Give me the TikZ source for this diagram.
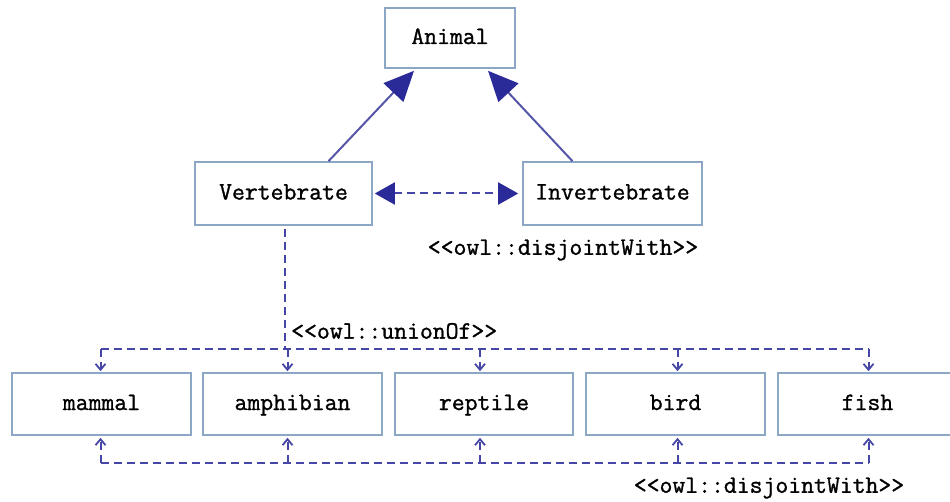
\documentclass[tikz,border=0pt]{standalone}
\usepackage{fontspec}
\newfontfamily\boxfont[FakeBold=1.2]{Latin Modern Mono}
\usetikzlibrary{arrows.meta,calc}
\definecolor{boxline}{HTML}{8CA6C6}
\definecolor{linkline}{HTML}{5656A8}
\definecolor{headfill}{HTML}{2A2A98}
\definecolor{dashline}{HTML}{4646A6}
\tikzset{
  classbox/.style={draw=boxline, line width=1.6pt, fill=white, inner sep=0pt,
    minimum height=62pt, text height=17pt, text depth=5pt,
    font=\boxfont\fontsize{25}{28}\selectfont},
  isa/.style={draw=linkline, line width=2pt,
    -{Triangle[length=30pt,width=27pt,fill=headfill,color=headfill]}},
  disj/.style={draw=dashline, line width=2pt, dash pattern=on 8pt off 5pt,
    {Triangle[length=20pt,width=22pt,fill=headfill,color=headfill]}-{Triangle[length=20pt,width=22pt,fill=headfill,color=headfill]}},
  bus/.style={draw=dashline, line width=2pt, dash pattern=on 8pt off 5pt},
  tick/.style={bus, -{Straight Barb[length=6pt,width=10pt,line width=1.8pt]}},
  stereo/.style={font=\boxfont\fontsize{25}{28}\selectfont, inner sep=0pt}
}
\begin{document}
\begin{tikzpicture}[x=1pt,y=-1pt]
\useasboundingbox (0,0) rectangle (950,502);

% class boxes
\node[classbox, minimum width=130pt, minimum height=60pt] (animal) at (450,38) {Animal};
\node[classbox, minimum width=177pt, minimum height=63pt] (vert) at (283.5,193.5) {Vertebrate};
\node[classbox, minimum width=179pt, minimum height=63pt] (invert) at (612.5,193.5) {Invertebrate};

\node[classbox, minimum width=179pt] (mammal) at (101.5,404) {mammal};
\node[classbox, minimum width=179pt] (amph)   at (292.5,404) {amphibian};
\node[classbox, minimum width=178pt] (rept)   at (484,404)   {reptile};
\node[classbox, minimum width=179pt] (bird)   at (675.5,404) {bird};
\node[classbox, minimum width=179pt] (fish)   at (867.5,404) {fish};

% subclass links
\draw[isa] ($(vert.north)+(45,0)$) -- ($(animal.south)+(-36,2)$);
\draw[isa] ($(invert.north)+(-40,0)$) -- ($(animal.south)+(38,2)$);

% disjointness of Vertebrate and Invertebrate
\draw[disj] ($(vert.east)+(2,0)$) -- ($(invert.west)+(-4,0)$);
\node[stereo] (dj1) at (563,250) {<<owl::disjointWith>>};

% union of the five subclasses
\coordinate (u1) at ($(mammal.north)+(-1,-23)$);
\coordinate (u2) at ($(amph.north)+(-5,-23)$);
\coordinate (u3) at ($(rept.north)+(-4,-23)$);
\coordinate (u4) at ($(bird.north)+(2,-23)$);
\coordinate (u5) at ($(fish.north)+(1,-23)$);
\coordinate (vs) at ($(vert.south)+(1.5,3)$);
\draw[bus] (vs) -- (vs |- u2);
\draw[bus] (u1) -- (u5);
\foreach \c in {u1,u2,u3,u4,u5}
  \draw[tick] (\c) -- ++(0,22);
\node[stereo, anchor=west] (un) at (291,331) {<<owl::unionOf>>};

% pairwise disjointness of the five subclasses
\coordinate (d1) at ($(mammal.south)+(-1,27)$);
\coordinate (d2) at ($(amph.south)+(-5,27)$);
\coordinate (d3) at ($(rept.south)+(-4,27)$);
\coordinate (d4) at ($(bird.south)+(2,27)$);
\coordinate (d5) at ($(fish.south)+(1,27)$);
\draw[bus] (d1) -- (d5);
\foreach \c in {d1,d2,d3,d4,d5}
  \draw[tick] (\c) -- ++(0,-25);
\node[stereo] (dj2) at (769,488) {<<owl::disjointWith>>};
\end{tikzpicture}
\end{document}
